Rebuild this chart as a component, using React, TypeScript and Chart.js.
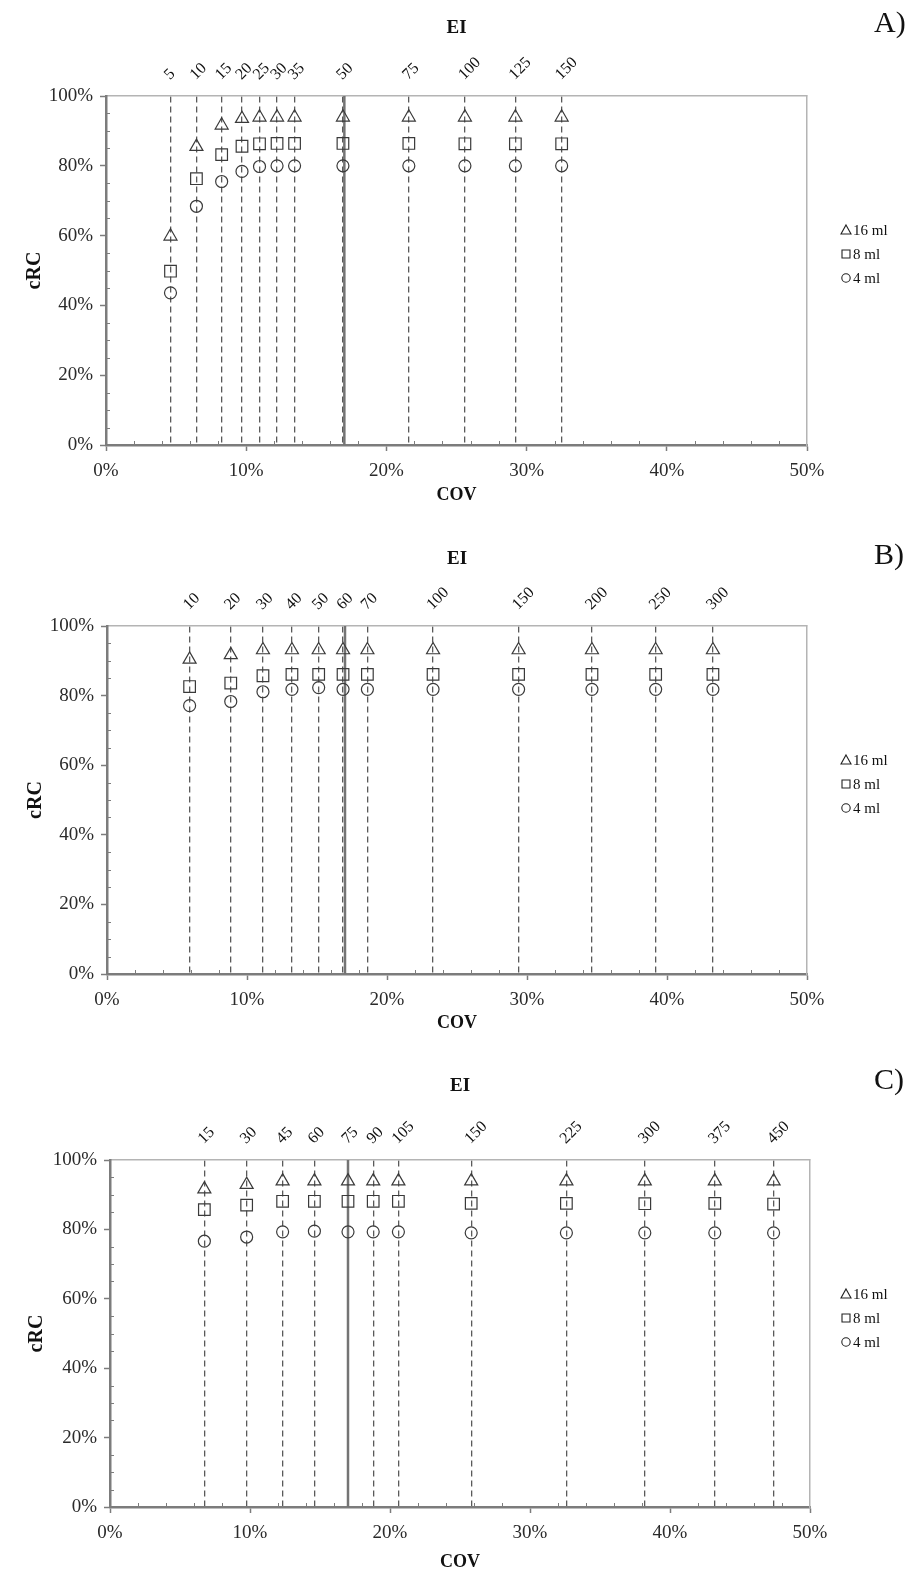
import React, { useEffect, useRef } from "react";
import { Chart, registerables } from "chart.js";
Chart.register(...registerables);

// ---------- DATA ----------
// Panel A
const covA = [4.6, 6.45, 8.25, 9.7, 10.95, 12.2, 13.45, 16.9, 21.6, 25.6, 29.2, 32.5];
const eiA = ["5", "10", "15", "20", "25", "30", "35", "50", "75", "100", "125", "150"];
const ml16A = [59.8, 85.5, 91.6, 93.5, 93.9, 93.9, 93.9, 93.9, 93.9, 93.9, 93.9, 93.9];
const ml8A = [49.8, 76.3, 83.2, 85.6, 86.3, 86.4, 86.4, 86.4, 86.4, 86.3, 86.3, 86.3];
const ml4A = [43.6, 68.4, 75.5, 78.4, 79.8, 80.0, 80.0, 80.0, 80.0, 80.0, 80.0, 80.0];

// Panel B
const covB = [5.9, 8.84, 11.14, 13.21, 15.12, 16.86, 18.6, 23.29, 29.4, 34.64, 39.19, 43.28];
const eiB = ["10", "20", "30", "40", "50", "60", "70", "100", "150", "200", "250", "300"];
const ml16B = [90.4, 91.7, 93.1, 93.1, 93.1, 93.1, 93.1, 93.1, 93.1, 93.1, 93.1, 93.1];
const ml8B = [82.6, 83.6, 85.7, 86.1, 86.1, 86.1, 86.1, 86.1, 86.1, 86.1, 86.1, 86.1];
const ml4B = [77.1, 78.3, 81.1, 81.8, 82.3, 81.8, 81.8, 81.8, 81.8, 81.8, 81.8, 81.8];

// Panel C
const covC = [6.74, 9.76, 12.33, 14.6, 17.0, 18.8, 20.6, 25.8, 32.6, 38.2, 43.2, 47.4];
const eiC = ["15", "30", "45", "60", "75", "90", "105", "150", "225", "300", "375", "450"];
const ml16C = [91.6, 92.9, 93.9, 93.9, 93.9, 93.9, 93.9, 93.9, 93.9, 93.9, 93.9, 93.9];
const ml8C = [85.7, 87.0, 88.1, 88.1, 88.1, 88.1, 88.1, 87.5, 87.5, 87.4, 87.5, 87.3];
const ml4C = [76.6, 77.8, 79.3, 79.5, 79.3, 79.3, 79.3, 79.0, 79.0, 79.0, 79.0, 79.0];

// Reference (solid) line COV value
const refCov = 17;

// Axis ranges / ticks
const covMin = 0;
const covMax = 50;
const covStep = 10;
const covMinorStep = 2;
const crcMin = 0;
const crcMax = 100;
const crcStep = 20;
const crcMinorStep = 5;

const seriesLabels = ["16 ml", "8 ml", "4 ml"];
const panelLetters = ["A)", "B)", "C)"];

// ---------- LAYOUT ----------
const SERIF = "'Liberation Serif', 'Times New Roman', Times, serif";
const W = 924;

type Panel = {
  cov: number[];
  ei: string[];
  s16: number[];
  s8: number[];
  s4: number[];
  letter: string;
  top: number;
  h: number;
  chartTop: number;
  chartBottom: number;
  left: number;
  right: number;
  eiY: number;
  covY: number;
  letterY: number;
  yTitleX: number;
};

const panels: Panel[] = [
  { cov: covA, ei: eiA, s16: ml16A, s8: ml8A, s4: ml4A, letter: panelLetters[0],
    top: 0, h: 525, chartTop: 96, chartBottom: 445, left: 106, right: 807, eiY: 28, covY: 495, letterY: 22, yTitleX: 35 },
  { cov: covB, ei: eiB, s16: ml16B, s8: ml8B, s4: ml4B, letter: panelLetters[1],
    top: 525, h: 530, chartTop: 101, chartBottom: 449, left: 107, right: 807, eiY: 34, covY: 498, letterY: 29, yTitleX: 36 },
  { cov: covC, ei: eiC, s16: ml16C, s8: ml8C, s4: ml4C, letter: panelLetters[2],
    top: 1055, h: 518, chartTop: 105, chartBottom: 452, left: 110, right: 810, eiY: 31, covY: 508, letterY: 24, yTitleX: 37 },
];

const MARK = "#3a3a3a";
const AXIS = "#7c7c7c";
const FRAME = "#b4b4b4";

const minorTicksPlugin = {
  id: "minorTicks",
  afterDraw(chart: any) {
    const { ctx, chartArea, scales } = chart;
    ctx.save();
    ctx.strokeStyle = AXIS;
    ctx.lineWidth = 1;
    ctx.beginPath();
    for (let v = covMin + covMinorStep; v < covMax; v += covMinorStep) {
      if (Math.abs(v % covStep) < 1e-9) continue;
      const px = Math.round(scales.x.getPixelForValue(v)) + 0.5;
      ctx.moveTo(px, chartArea.bottom);
      ctx.lineTo(px, chartArea.bottom - 4);
    }
    for (let v = crcMin + crcMinorStep; v < crcMax; v += crcMinorStep) {
      if (Math.abs(v % crcStep) < 1e-9) continue;
      const py = Math.round(scales.y.getPixelForValue(v)) + 0.5;
      ctx.moveTo(chartArea.left, py);
      ctx.lineTo(chartArea.left + 4, py);
    }
    ctx.stroke();
    ctx.restore();
  },
};

const legendPlugin = {
  id: "sideLegend",
  afterDraw(chart: any) {
    const { ctx, chartArea } = chart;
    const rows = [134, 158, 182];
    const symX = 846;
    const textX = 853;
    ctx.save();
    ctx.strokeStyle = "#222";
    ctx.lineWidth = 1.1;
    ctx.fillStyle = "#111";
    ctx.font = `15px ${SERIF}`;
    ctx.textBaseline = "middle";
    ctx.textAlign = "left";
    chart.data.datasets.slice(0, 3).forEach((ds: any, i: number) => {
      const y = chartArea.top + rows[i];
      ctx.beginPath();
      if (ds.pointStyle === "triangle") {
        ctx.moveTo(symX, y - 5);
        ctx.lineTo(symX + 5, y + 4);
        ctx.lineTo(symX - 5, y + 4);
        ctx.closePath();
      } else if (ds.pointStyle === "rect") {
        ctx.rect(symX - 4, y - 4, 8, 8);
      } else {
        ctx.arc(symX, y, 4.2, 0, Math.PI * 2);
      }
      ctx.stroke();
      ctx.fillText(ds.label, textX, y + 1);
    });
    ctx.restore();
  },
};

function makeConfig(p: Panel): any {
  const pts = (ys: number[]) => p.cov.map((x, i) => ({ x, y: ys[i] }));
  const common = {
    borderColor: MARK,
    backgroundColor: "rgba(0,0,0,0)",
    borderWidth: 1.2,
    showLine: false,
  };
  return {
    type: "scatter",
    data: {
      datasets: [
        { ...common, label: seriesLabels[0], data: pts(p.s16), pointStyle: "triangle", pointRadius: 7.5 },
        { ...common, label: seriesLabels[1], data: pts(p.s8), pointStyle: "rect", pointRadius: 8.2 },
        { ...common, label: seriesLabels[2], data: pts(p.s4), pointStyle: "circle", pointRadius: 6 },
        {
          type: "line",
          label: "ref",
          data: [{ x: refCov, y: crcMin }, { x: refCov, y: crcMax }],
          borderColor: "#747474",
          borderWidth: 2.5,
          pointRadius: 0,
          showLine: true,
        },
      ],
    },
    options: {
      responsive: false,
      animation: false,
      devicePixelRatio: 1,
      events: [],
      layout: { padding: 0, autoPadding: false },
      plugins: {
        legend: { display: false },
        tooltip: { enabled: false },
        title: { display: false },
      },
      scales: {
        x: {
          type: "linear",
          position: "bottom",
          min: covMin,
          max: covMax,
          ticks: {
            stepSize: covStep,
            callback: (v: number) => v + "%",
            font: { family: SERIF, size: 19 },
            color: "#2a2a2a",
            padding: 9,
          },
          grid: { drawOnChartArea: false, tickLength: 6, tickColor: AXIS, tickWidth: 1.5 },
          border: { color: AXIS, width: 2.5 },
          title: {
            display: true,
            text: "COV",
            font: { family: SERIF, size: 18, weight: "bold" },
            color: "#111",
            padding: { top: 0, bottom: Math.max(0, p.h - p.covY - 10.8) },
          },
          afterFit: (s: any) => { s.height = p.h - p.chartBottom; },
        },
        x2: {
          type: "linear",
          position: "top",
          min: covMin,
          max: covMax,
          afterBuildTicks: (s: any) => { s.ticks = p.cov.map((v) => ({ value: v })); },
          ticks: {
            autoSkip: false,
            minRotation: 45,
            maxRotation: 45,
            callback: (_v: number, i: number) => p.ei[i],
            font: { family: SERIF, size: 16 },
            color: "#111",
            padding: 12,
            labelOffset: 10,
          },
          grid: { drawOnChartArea: true, drawTicks: false, color: "#5a5a5a", lineWidth: 1.3 },
          border: { display: true, color: FRAME, width: 1.5, dash: [6, 4] },
          title: {
            display: true,
            text: "EI",
            font: { family: SERIF, size: 19, weight: "bold" },
            color: "#111",
            padding: { top: p.eiY - 11.4, bottom: 0 },
          },
          afterFit: (s: any) => { s.height = p.chartTop; },
        },
        y: {
          type: "linear",
          position: "left",
          min: crcMin,
          max: crcMax,
          ticks: {
            stepSize: crcStep,
            callback: (v: number) => v + "%",
            font: { family: SERIF, size: 19 },
            color: "#2a2a2a",
            padding: 7,
          },
          grid: { drawOnChartArea: false, tickLength: 6, tickColor: AXIS, tickWidth: 1.5 },
          border: { color: AXIS, width: 2.5 },
          title: {
            display: true,
            text: "cRC",
            font: { family: SERIF, size: 20, weight: "bold" },
            color: "#111",
            padding: { top: p.yTitleX - 12, bottom: 0 },
          },
          afterFit: (s: any) => { s.width = p.left; },
        },
        y2: {
          type: "linear",
          position: "right",
          min: crcMin,
          max: crcMax,
          ticks: { display: false },
          grid: { display: false, drawTicks: false },
          border: { display: true, color: FRAME, width: 1.5 },
          afterFit: (s: any) => { s.width = W - p.right; },
        },
      },
    },
    plugins: [minorTicksPlugin, legendPlugin],
  };
}

function PanelChart({ p }: { p: Panel }) {
  const ref = useRef<HTMLCanvasElement>(null);
  useEffect(() => {
    const chart = new Chart(ref.current as HTMLCanvasElement, makeConfig(p));
    return () => chart.destroy();
  }, [p]);
  return (
    <>
      <canvas
        ref={ref}
        width={W}
        height={p.h}
        style={{ position: "absolute", left: 0, top: p.top, width: W, height: p.h, display: "block" }}
      />
      <div
        style={{
          position: "absolute",
          left: 874,
          top: p.top + p.letterY - 15,
          fontFamily: SERIF,
          fontSize: 30,
          lineHeight: "30px",
          color: "#111",
          whiteSpace: "nowrap",
        }}
      >
        {p.letter}
      </div>
    </>
  );
}

export default function App() {
  return (
    <div style={{ position: "absolute", left: 0, top: 0, width: W, height: 1573, background: "#fff", overflow: "hidden" }}>
      {panels.map((p, i) => (
        <PanelChart key={i} p={p} />
      ))}
    </div>
  );
}
